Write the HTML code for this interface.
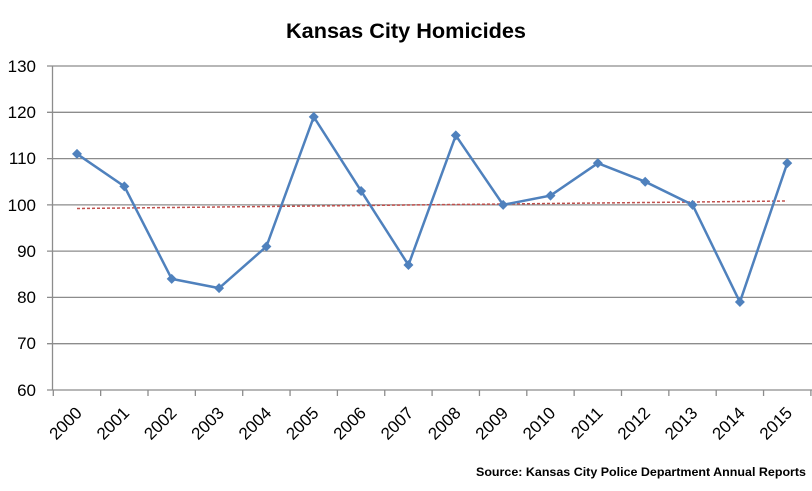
<!DOCTYPE html>
<html><head><meta charset="utf-8"><style>
html,body{margin:0;padding:0;background:#fff;}
svg{display:block;font-family:"Liberation Sans",sans-serif;}
</style></head><body>
<svg width="812" height="491" viewBox="0 0 812 491" xmlns="http://www.w3.org/2000/svg">
<rect width="812" height="491" fill="#fff"/>
<text x="406" y="38" text-anchor="middle" font-size="21" font-weight="bold" fill="#000" textLength="240" lengthAdjust="spacingAndGlyphs">Kansas City Homicides</text>
<g stroke="#8c8c8c" stroke-width="1.3">
<line x1="47" y1="66" x2="812" y2="66"/>
<line x1="47" y1="112.3" x2="812" y2="112.3"/>
<line x1="47" y1="158.6" x2="812" y2="158.6"/>
<line x1="47" y1="204.9" x2="812" y2="204.9"/>
<line x1="47" y1="251.1" x2="812" y2="251.1"/>
<line x1="47" y1="297.4" x2="812" y2="297.4"/>
<line x1="47" y1="343.7" x2="812" y2="343.7"/>
<line x1="47" y1="390" x2="812" y2="390"/>
<line x1="52.5" y1="66" x2="52.5" y2="390"/>
</g>
<g stroke="#8c8c8c" stroke-width="1.3" id="ticks"></g>
<g font-size="17" fill="#000" text-anchor="end">
<text x="36" y="72">130</text><text x="36" y="118">120</text><text x="36" y="164">110</text>
<text x="36" y="211">100</text><text x="36" y="257">90</text><text x="36" y="303">80</text>
<text x="36" y="349">70</text><text x="36" y="396">60</text>
</g>
<line x1="77" y1="208.5" x2="787" y2="201" stroke="#c0504d" stroke-width="1.5" stroke-dasharray="3,2"/>
<g id="s"></g>
<text x="806" y="476" text-anchor="end" font-size="12" font-weight="bold" fill="#000" textLength="330" lengthAdjust="spacingAndGlyphs">Source: Kansas City Police Department Annual Reports</text>
<script>
var v=[111,104,84,82,91,119,103,87,115,100,102,109,105,100,79,109];
var ns="http://www.w3.org/2000/svg";
var t=document.getElementById('ticks'),s=document.getElementById('s');
var svg=document.querySelector('svg');
for(var i=0;i<=16;i++){var x=53.3+i*47.35;var l=document.createElementNS(ns,'line');
l.setAttribute('x1',x);l.setAttribute('x2',x);l.setAttribute('y1',390);l.setAttribute('y2',396);t.appendChild(l);}
var pts=[];
for(var i=0;i<16;i++){var x=77+i*47.35,y=390-(v[i]-60)*4.629;pts.push(x+','+y);
var ax=x+6,ay=414;
var tx=document.createElementNS(ns,'text');tx.setAttribute('x',ax);tx.setAttribute('y',ay);
tx.setAttribute('font-size','17');tx.setAttribute('text-anchor','end');
tx.setAttribute('transform','rotate(-45 '+ax+' '+ay+')');tx.textContent=2000+i;svg.insertBefore(tx,s);}
var p=document.createElementNS(ns,'polyline');p.setAttribute('points',pts.join(' '));
p.setAttribute('fill','none');p.setAttribute('stroke','#4f81bd');p.setAttribute('stroke-width','2.5');s.appendChild(p);
pts.forEach(function(q){var a=q.split(',');var x=+a[0],y=+a[1];var d=document.createElementNS(ns,'polygon');
d.setAttribute('points',x+','+(y-5)+' '+(x+5)+','+y+' '+x+','+(y+5)+' '+(x-5)+','+y);d.setAttribute('fill','#4f81bd');s.appendChild(d);});
</script>
</svg>
</body></html>
